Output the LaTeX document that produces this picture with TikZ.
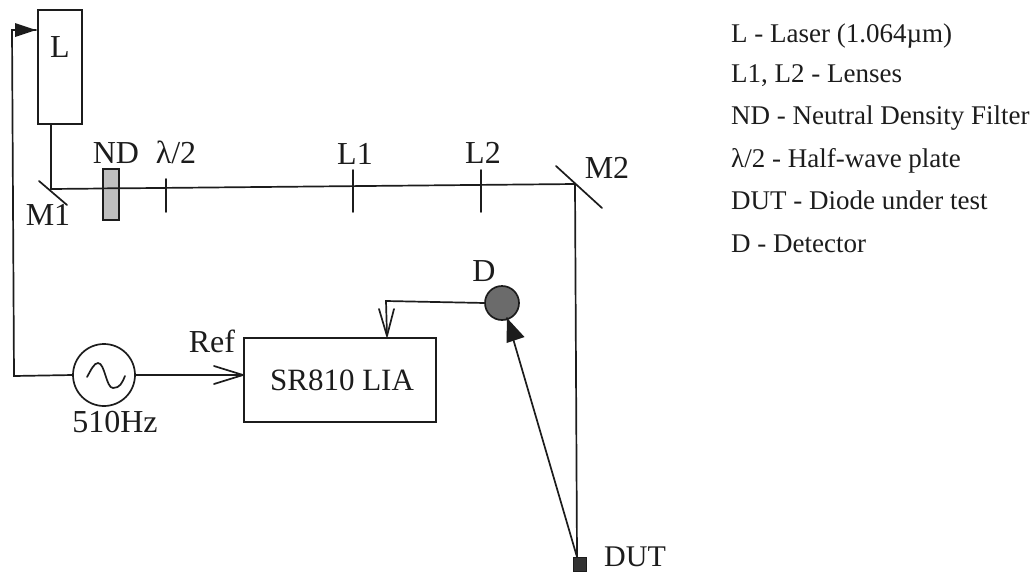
\documentclass[tikz,border=0pt]{standalone}
\usepackage{fontspec}
\setmainfont{Liberation Serif}
\usetikzlibrary{calc}
\definecolor{ink}{HTML}{1C1C1C}
\tikzset{
  wire/.style={draw=ink,line width=1.7pt,line cap=round},
  box/.style={draw=ink,line width=1.7pt,fill=white,inner sep=0pt,outer sep=0pt},
  lab/.style={text=ink,font=\fontsize{32}{32}\selectfont,inner sep=0pt,anchor=base},
  leg/.style={text=ink,font=\fontsize{27}{27}\selectfont,inner sep=0pt,anchor=base west},
  solidtip/.style={fill=ink,draw=none},
}
\begin{document}
\begin{tikzpicture}[x=1pt,y=-1pt]
\useasboundingbox (0,0) rectangle (1034,571);
% coordinates
\coordinate (m1) at (51,189);
\coordinate (m1a) at (39,181);
\coordinate (m1b) at (67,205);
\coordinate (m2) at (575,184);
\coordinate (m2a) at (556,166);
\coordinate (m2b) at (602,208);
\coordinate (hwA) at (166,179);
\coordinate (hwB) at (166,212);
\coordinate (l1A) at (353,170);
\coordinate (l1B) at (353,212);
\coordinate (l2A) at (481,170);
\coordinate (l2B) at (481,212);
\coordinate (corner1) at (12,30);
\coordinate (corner2) at (14,376);
\coordinate (laserIn) at (36,30);
\coordinate (refIn) at (243,375);
\coordinate (sigCorner) at (386,301);
\coordinate (sigIn) at (387,336);
\coordinate (detIn) at (507,318);
\coordinate (beamTop) at (51,124);
\coordinate (dutTop) at (577,557);
% nodes
\node[box,minimum width=44pt,minimum height=114pt] (laser) at (60,67) {};
\node[box,fill=white,minimum width=192pt,minimum height=84pt] (lia) at (340,380) {};
\node[box,circle,minimum size=62pt] (osc) at (104,375) {};
\node[box,circle,fill=black!58,minimum size=34pt] (det) at (502,303) {};
\node[box,fill=black!80,line width=0.8pt,minimum width=13pt,minimum height=14pt] (dut) at (580,564) {};
% beam
\draw[wire] (laser.south -| beamTop) -- (m1) -- (m2) -- (dut.north -| dutTop);
\draw[wire] (m1a) -- (m1b);
\draw[wire] (m2a) -- (m2b);
\draw[wire] (hwA) -- (hwB);
\draw[wire] (l1A) -- (l1B);
\draw[wire] (l2A) -- (l2B);
\node[box,fill=black!25,minimum width=16pt,minimum height=51pt] (nd) at (111,194.5) {};
\draw[draw=ink,line width=1.7pt] (nd.west |- m1) ++(0,-0.6) -- ++(16,-0.2);
% electrical
\draw[wire] (osc.west) -- (corner2) -- (corner1) -- (laserIn);
\fill[solidtip] (laserIn) -- ++(-21,-7) -- ++(0,14) -- cycle;
\draw[wire] (osc.east) -- (refIn);
\draw[wire,line join=round] ($(refIn)+(-29,-9)$) -- (refIn) -- ($(refIn)+(-29,9)$);
\draw[wire] (det.west) -- (sigCorner) -- (sigIn);
\draw[wire,line join=round] ($(sigIn)+(-8,-27)$) -- (sigIn) -- ($(sigIn)+(7,-27)$);
\draw[wire] (dutTop) -- (detIn);
\fill[solidtip] (detIn) -- (506.5,343) -- (524.5,337) -- cycle;
% sine
\draw[wire] (87,377) .. controls (91,370) and (94,363) .. (98,363)
  .. controls (105,363) and (106,388) .. (113,388)
  .. controls (120,388) and (122,383) .. (125,376);
% labels
\node[lab] (tL) at (60,57) {L};
\node[lab] (tND) at (116,163) {ND};
\node[lab] (tHW) at (176,163) {λ/2};
\node[lab] (tL1) at (355,164) {L1};
\node[lab] (tL2) at (483,163) {L2};
\node[lab] (tM2) at (607,178) {M2};
\node[lab] (tM1) at (48,225) {M1};
\node[lab] (tD) at (484,281) {D};
\node[lab] (tRef) at (212,352) {Ref};
\node[lab] (tHz) at (115,432) {510Hz};
\node[lab,font=\fontsize{31}{31}\selectfont] (tLIA) at (342,390) {SR810 LIA};
\node[lab,anchor=base west,font=\fontsize{30}{30}\selectfont] (tDUT) at (604,566) {DUT};
% legend
\node[leg] (k1) at (731,42) {L - Laser (1.064µm)};
\node[leg] (k2) at (731,82) {L1, L2 - Lenses};
\node[leg] (k3) at (731,124) {ND - Neutral Density Filter};
\node[leg] (k4) at (731,167) {λ/2 - Half-wave plate};
\node[leg] (k5) at (731,209) {DUT - Diode under test};
\node[leg] (k6) at (731,252) {D - Detector};
\end{tikzpicture}
\end{document}
